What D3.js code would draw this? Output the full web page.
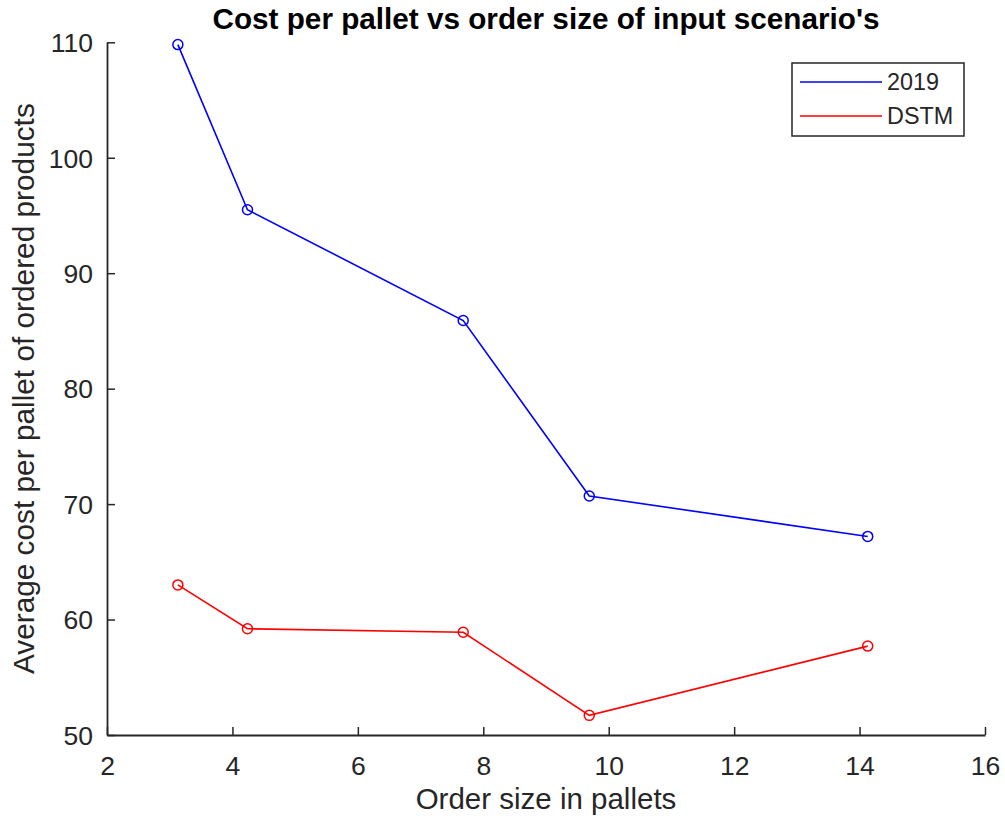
<!DOCTYPE html>
<html>
<head>
<meta charset="utf-8">
<script src="https://cdn.jsdelivr.net/npm/d3@7"></script>
<style>
  html, body { margin: 0; padding: 0; background: #ffffff; }
  svg { display: block; }
  text { font-family: "Liberation Sans", Arial, Helvetica, sans-serif; }
</style>
</head>
<body>
<svg id="chart" width="1005" height="822"></svg>
<script>
// ---- data ----
const orderSizes = [3.13, 4.24, 7.68, 9.69, 14.13];
const series2019 = [109.8, 95.5, 85.9, 70.7, 67.2];
const seriesDSTM = [63.0, 59.2, 58.9, 51.7, 57.7];
const seriesNames = ["2019", "DSTM"];
const xTicks = [2, 4, 6, 8, 10, 12, 14, 16];
const yTicks = [50, 60, 70, 80, 90, 100, 110];
const titleText = "Cost per pallet vs order size of input scenario's";
const xLabelText = "Order size in pallets";
const yLabelText = "Average cost per pallet of ordered products";

// ---- layout ----
const W = 1005, H = 822;
const plot = { left: 107, right: 985, top: 42.3, bottom: 735 };
const axisColor = "#262626";
const colors = ["#0000ff", "#ff0000"];

const svg = d3.select("#chart");
svg.append("rect").attr("width", W).attr("height", H).attr("fill", "#ffffff");

const x = d3.scaleLinear().domain([2, 16]).range([plot.left, plot.right]);
const y = d3.scaleLinear().domain([50, 110]).range([plot.bottom, plot.top]);

// x axis (ticks pointing inward)
const xAxis = d3.axisBottom(x).tickValues(xTicks).tickSizeInner(-8).tickSizeOuter(0).tickPadding(0).tickFormat(d3.format("d"));
const gx = svg.append("g").attr("transform", `translate(0,${plot.bottom})`).call(xAxis);
gx.select(".domain").attr("stroke", axisColor).attr("stroke-width", 1.8);
gx.selectAll(".tick line").attr("stroke", axisColor).attr("stroke-width", 1.5);
gx.selectAll(".tick text")
  .attr("fill", axisColor)
  .attr("font-size", 26.5)
  .attr("dy", null)
  .attr("y", 40);

// y axis
const yAxis = d3.axisLeft(y).tickValues(yTicks).tickSizeInner(-8).tickSizeOuter(0).tickPadding(0).tickFormat(d3.format("d"));
const gy = svg.append("g").attr("transform", `translate(${plot.left},0)`).call(yAxis);
gy.select(".domain").attr("stroke", axisColor).attr("stroke-width", 1.8);
gy.selectAll(".tick line").attr("stroke", axisColor).attr("stroke-width", 1.5);
gy.selectAll(".tick text")
  .attr("fill", axisColor)
  .attr("font-size", 26.5)
  .attr("x", -14)
  .attr("dy", "0.35em");
svg.selectAll("g text").attr("font-family", "'Liberation Sans', Arial, sans-serif");

// lines and markers
const allSeries = [series2019, seriesDSTM];
const line = d3.line().x((d, i) => x(orderSizes[i])).y(d => y(d));
allSeries.forEach((vals, si) => {
  svg.append("path")
    .datum(vals)
    .attr("d", line)
    .attr("fill", "none")
    .attr("stroke", colors[si])
    .attr("stroke-width", 1.6);
  svg.append("g").selectAll("circle")
    .data(vals)
    .join("circle")
    .attr("cx", (d, i) => x(orderSizes[i]))
    .attr("cy", d => y(d))
    .attr("r", 5)
    .attr("fill", "none")
    .attr("stroke", colors[si])
    .attr("stroke-width", 1.5);
});

// title
svg.append("text")
  .attr("x", (plot.left + plot.right) / 2)
  .attr("y", 29)
  .attr("text-anchor", "middle")
  .attr("font-size", 29.7)
  .attr("font-weight", "bold")
  .attr("fill", "#000000")
  .text(titleText);

// axis labels
svg.append("text")
  .attr("x", (plot.left + plot.right) / 2)
  .attr("y", 809)
  .attr("text-anchor", "middle")
  .attr("font-size", 29.5)
  .attr("fill", axisColor)
  .text(xLabelText);

svg.append("text")
  .attr("transform", `translate(34,${(plot.top + plot.bottom) / 2}) rotate(-90)`)
  .attr("text-anchor", "middle")
  .attr("font-size", 29.8)
  .attr("fill", axisColor)
  .text(yLabelText);

// legend
const leg = svg.append("g").attr("transform", "translate(792,63)");
leg.append("rect")
  .attr("width", 172).attr("height", 73)
  .attr("fill", "#ffffff")
  .attr("stroke", axisColor)
  .attr("stroke-width", 1.5);
seriesNames.forEach((name, i) => {
  const yy = 19 + i * 34;
  leg.append("line")
    .attr("x1", 8).attr("x2", 90)
    .attr("y1", yy).attr("y2", yy)
    .attr("stroke", colors[i]).attr("stroke-width", 1.6);
  leg.append("text")
    .attr("x", 95).attr("y", yy)
    .attr("dy", "0.35em")
    .attr("font-size", 23.4)
    .attr("fill", axisColor)
    .text(name);
});
</script>
</body>
</html>
